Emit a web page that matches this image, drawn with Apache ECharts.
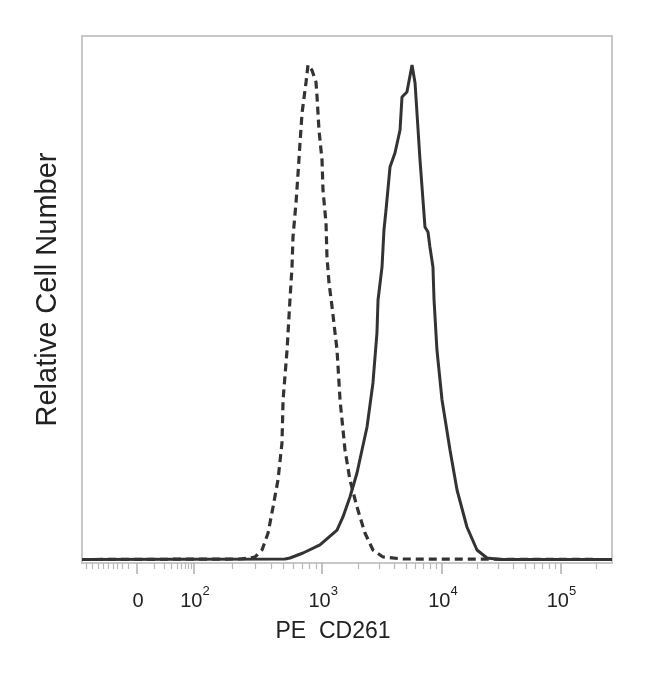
<!DOCTYPE html>
<html>
<head>
<meta charset="utf-8">
<script src="https://cdn.jsdelivr.net/npm/echarts@6/dist/echarts.min.js"></script>
<style>
  html, body { margin: 0; padding: 0; background: #fff; }
  #chart { width: 650px; height: 676px; }
</style>
</head>
<body>
<div id="chart"></div>
<script>
// x is in display units of the biexponential PE axis (0 = zero, ~1 unit per decade)
var isoX = [-0.455, 0.851, 0.934, 0.975, 1.033, 1.083, 1.124, 1.165, 1.198, 1.207, 1.240, 1.264, 1.281, 1.289, 1.314, 1.331, 1.347, 1.364, 1.397, 1.413, 1.446, 1.479, 1.488, 1.504, 1.529, 1.537, 1.562, 1.570, 1.587, 1.612, 1.653, 1.678, 1.719, 1.760, 1.818, 1.884, 1.950, 2.033, 2.198, 3.926];
var isoY = [0.66, 0.76, 0.95, 1.14, 2.47, 5.69, 10.63, 15.75, 22.77, 30.93, 40.42, 49.91, 56.17, 61.86, 68.31, 74.00, 79.70, 85.39, 91.27, 94.50, 93.5, 91.27, 88.43, 82.16, 76.47, 70.78, 64.52, 58.06, 53.13, 48.58, 40.42, 30.93, 21.44, 15.75, 10.63, 5.69, 2.47, 1.14, 0.76, 0.66];

var cd261X = [-0.455, 1.223, 1.264, 1.372, 1.512, 1.653, 1.702, 1.760, 1.818, 1.901, 1.950, 1.983, 1.992, 2.025, 2.041, 2.058, 2.091, 2.132, 2.174, 2.190, 2.231, 2.273, 2.298, 2.339, 2.380, 2.405, 2.421, 2.446, 2.455, 2.479, 2.521, 2.587, 2.645, 2.727, 2.810, 2.893, 3.0, 3.926];
var cd261Y = [0.66, 0.76, 0.95, 1.90, 3.42, 6.26, 8.73, 12.52, 17.08, 25.81, 34.16, 43.64, 49.91, 56.17, 63.19, 66.98, 75.14, 77.80, 82.16, 88.43, 89.37, 94.50, 91.08, 76.47, 63.76, 62.81, 59.96, 56.17, 49.91, 40.42, 30.93, 21.44, 13.85, 6.83, 2.47, 0.95, 0.66, 0.66];

var majorTicks = [0, 0.47, 1.53, 2.52, 3.50];
var tickBase = ['0', '10', '10', '10', '10'];
var tickExp = ['', '2', '3', '4', '5'];

var xMin = -0.455, xMax = 3.926;

// minor ticks
var decadePos = [0.47, 1.53, 2.52, 3.50, 4.48];
var minorTicks = [-0.42, -0.37, -0.32, -0.28, -0.24, -0.20, -0.16, -0.12, -0.07];
for (var m = 2; m <= 9; m++) minorTicks.push(0.47 + Math.log10(m / 10) * 0.47);
for (var k = 0; k < 4; k++) {
    for (var m2 = 2; m2 <= 9; m2++) {
        var p = decadePos[k] + Math.log10(m2) * (decadePos[k + 1] - decadePos[k]);
        if (p < xMax) minorTicks.push(p);
    }
}

function pairs(xs, ys) {
    return xs.map(function (x, i) { return [x, ys[i]]; });
}

var chart = echarts.init(document.getElementById('chart'));
var lineColor = '#333';
var option = {
    backgroundColor: '#fff',
    animation: false,
    grid: {
        left: 82, right: 38, top: 36, bottom: 113,
        show: true, borderColor: '#c8c8c8', borderWidth: 2
    },
    xAxis: [{
        type: 'value', min: xMin, max: xMax,
        name: 'PE  CD261', nameLocation: 'middle', nameGap: 57,
        nameTextStyle: { fontFamily: 'Liberation Sans', fontSize: 23, color: '#222', padding: [0, 28, 0, 0] },
        splitLine: { show: false },
        axisLine: { show: true, lineStyle: { color: '#c8c8c8', width: 2 } },
        axisTick: { show: true, customValues: majorTicks, length: 11, lineStyle: { color: '#b0b0b0', width: 1.5 } },
        axisLabel: {
            customValues: majorTicks, margin: 22,
            padding: [0, 0, 0, 2],
            formatter: function (v) {
                var i = majorTicks.indexOf(v);
                if (i < 0) return '';
                return '{b|' + tickBase[i] + '}' + (tickExp[i] ? '{s|' + tickExp[i] + '}' : '');
            },
            rich: {
                b: { fontFamily: 'Liberation Sans', fontSize: 20, color: '#222', lineHeight: 32 },
                s: { fontFamily: 'Liberation Sans', fontSize: 13, color: '#222', lineHeight: 13, verticalAlign: 'top' }
            }
        }
    }, {
        type: 'value', min: xMin, max: xMax, position: 'bottom',
        splitLine: { show: false },
        axisLine: { show: false },
        axisLabel: { show: false },
        axisTick: { show: true, customValues: minorTicks, length: 6, lineStyle: { color: '#b8b8b8', width: 1.2 } }
    }],
    yAxis: {
        type: 'value', min: 0, max: 100,
        name: 'Relative Cell Number', nameLocation: 'middle', nameGap: 20, nameRotate: 90,
        nameTextStyle: { fontFamily: 'Liberation Sans', fontSize: 29, color: '#222', padding: [0, 0, 0, 20] },
        splitLine: { show: false },
        axisLine: { show: false },
        axisTick: { show: false },
        axisLabel: { show: false }
    },
    series: [{
        name: 'Isotype',
        type: 'line', showSymbol: false, symbol: 'none',
        data: pairs(isoX, isoY),
        lineStyle: { color: lineColor, width: 3.2, type: [8, 5] }
    }, {
        name: 'CD261',
        type: 'line', showSymbol: false, symbol: 'none',
        data: pairs(cd261X, cd261Y),
        lineStyle: { color: lineColor, width: 3 }
    }]
};
chart.setOption(option);
</script>
</body>
</html>
